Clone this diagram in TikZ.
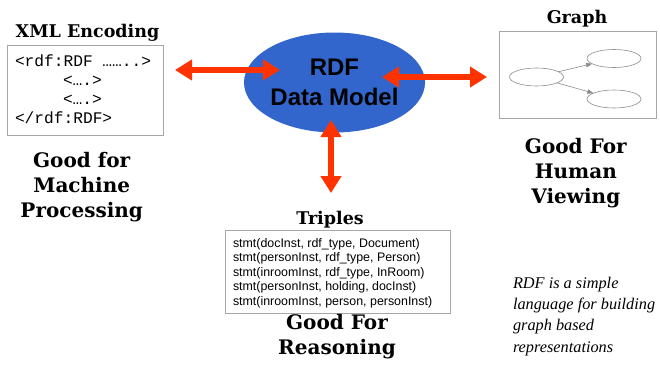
\documentclass[tikz,border=0pt]{standalone}
\usepackage{fontspec}
\setmainfont{Liberation Serif}
\setsansfont{Liberation Sans}
\setmonofont{Liberation Mono}
\newfontfamily\headfont{DejaVu Serif}
\usetikzlibrary{arrows.meta,shapes.geometric}
\definecolor{arrred}{HTML}{FF3300}
\definecolor{ellblue}{HTML}{3366CC}
\definecolor{boxgray}{HTML}{A6A6A6}
\definecolor{graphgray}{HTML}{8C8C8C}
\begin{document}
\begin{tikzpicture}[x=1pt,y=-1pt,
  every node/.style={inner sep=0pt, outer sep=0pt},
  framebox/.style={draw=boxgray, line width=1pt},
  headtxt/.style={font=\headfont\bfseries\fontsize{17.5}{21}\selectfont, anchor=base},
  goodtxt/.style={font=\headfont\bfseries\fontsize{20}{25}\selectfont, align=center, anchor=base},
  monotxt/.style={font=\ttfamily\fontsize{16.2}{19}\selectfont, anchor=base west},
  gell/.style={ellipse, draw=graphgray, line width=0.6pt, minimum width=54pt, minimum height=18pt},
  garrow/.style={draw=graphgray, line width=0.6pt, -{Triangle[length=6pt,width=4.5pt]}},
  bigarrow/.style={draw=arrred, line width=6pt, {Triangle[length=17pt,width=20pt]}-{Triangle[length=17pt,width=20pt]}}
]
\useasboundingbox (0,0) rectangle (660,365);

% XML encoding
\node[headtxt] (xmlh) at (87.5,37) {XML Encoding};
\node[framebox, minimum width=156pt, minimum height=90pt] (xmlbox) at (85,90) {};
\node[monotxt] (xl1) at (15,66) {<rdf:RDF ……..>};
\node[monotxt] (xl2) at (63,85) {<….>};
\node[monotxt] (xl3) at (63,104) {<….>};
\node[monotxt] (xl4) at (15,123) {</rdf:RDF>};
\node[goodtxt] (gm) at (81.7,217) {Good for\\Machine\\Processing};

% RDF data model
\node[ellipse, fill=ellblue, minimum width=156pt, minimum height=100pt, align=center,
      font=\sffamily\bfseries\fontsize{24}{30}\selectfont] (rdf) at (334.5,82.5) {RDF\\Data Model};

% Graph
\node[headtxt] (gh) at (577,23) {Graph};
\node[framebox, minimum width=157pt, minimum height=87pt] (gbox) at (577.5,74.5) {};
\node[gell] (g1) at (536.5,77) {};
\node[gell] (g2) at (614,58.5) {};
\node[gell] (g3) at (614,99) {};
\draw[garrow] (g1) -- (g2);
\draw[garrow] (g1) -- (g3);
\node[goodtxt] (gv) at (575.8,203) {Good For\\Human\\Viewing};

% Triples
\node[headtxt] (th) at (330,224) {Triples};
\node[framebox, minimum width=225pt, minimum height=83pt] (tbox) at (337.5,271.5) {};
\node[font=\sffamily\fontsize{12.4}{14.5}\selectfont, align=left, anchor=base west] (tt) at (233,305)
  {stmt(docInst, rdf\_type, Document)\\
   stmt(personInst, rdf\_type, Person)\\
   stmt(inroomInst, rdf\_type, InRoom)\\
   stmt(personInst, holding, docInst)\\
   stmt(inroomInst, person, personInst)};
\node[goodtxt] (gr) at (337,354) {Good For\\Reasoning};

% note
\node[font=\itshape\fontsize{16.3}{21.3}\selectfont, align=left, anchor=base west] (note) at (513,352)
  {RDF is a simple\\language for building\\graph based\\representations};

% arrows
\coordinate (la) at (175,70); \coordinate (lb) at (280,70);
\coordinate (ra) at (382,77); \coordinate (rb) at (487,77);
\coordinate (da) at (331,120); \coordinate (db) at (331,193);
\draw[bigarrow] (la) -- (lb);
\draw[bigarrow] (ra) -- (rb);
\draw[bigarrow] (da) -- (db);
\end{tikzpicture}
\end{document}
